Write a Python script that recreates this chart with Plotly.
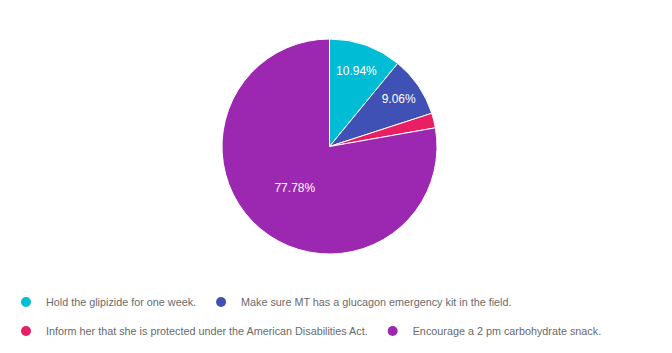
import plotly.graph_objects as go

labels = [
    "Hold the glipizide for one week.",
    "Make sure MT has a glucagon emergency kit in the field.",
    "Inform her that she is protected under the American Disabilities Act.",
    "Encourage a 2 pm carbohydrate snack.",
]
values = [10.94, 9.06, 2.22, 77.78]
colors = ["#00BCD4", "#3F51B5", "#E91E63", "#9C27B0"]
legend_rows = ["legend", "legend", "legend2", "legend2"]

W, H = 672, 353
cx, cy, r = 329.5, 146.5, 107.5

fig = go.Figure()
fig.add_trace(go.Pie(
    labels=labels,
    values=values,
    sort=False,
    direction="clockwise",
    rotation=0,
    marker=dict(colors=colors, line=dict(color="white", width=1)),
    texttemplate=["%{percent:.2%}", "%{percent:.2%}", "", "%{percent:.2%}"],
    textposition="inside",
    insidetextorientation="horizontal",
    textfont=dict(family="Liberation Sans, Arial", size=12, color="white"),
    showlegend=False,
    hoverinfo="label+percent",
    domain=dict(x=[(cx - r) / W, (cx + r) / W], y=[1 - (cy + r) / H, 1 - (cy - r) / H]),
))

for lab, col, lg in zip(labels, colors, legend_rows):
    fig.add_trace(go.Scatter(
        x=[None], y=[None], mode="markers", name=lab,
        marker=dict(color=col, size=10, symbol="circle"),
        legend=lg, showlegend=True, hoverinfo="skip",
    ))

legend_font = dict(family="Liberation Sans, Arial", size=10.8, color="#6a6a6a")
fig.update_layout(
    width=W, height=H,
    margin=dict(l=0, r=0, t=0, b=0),
    paper_bgcolor="white", plot_bgcolor="white",
    xaxis=dict(visible=False), yaxis=dict(visible=False),
    legend=dict(orientation="h", x=6 / W, xanchor="left", y=1 - 302 / H, yanchor="middle",
                font=legend_font, bgcolor="rgba(0,0,0,0)", itemclick=False, itemdoubleclick=False),
    legend2=dict(orientation="h", x=6 / W, xanchor="left", y=1 - 331 / H, yanchor="middle",
                 font=legend_font, bgcolor="rgba(0,0,0,0)", itemclick=False, itemdoubleclick=False),
)

fig.write_html("out.html")
